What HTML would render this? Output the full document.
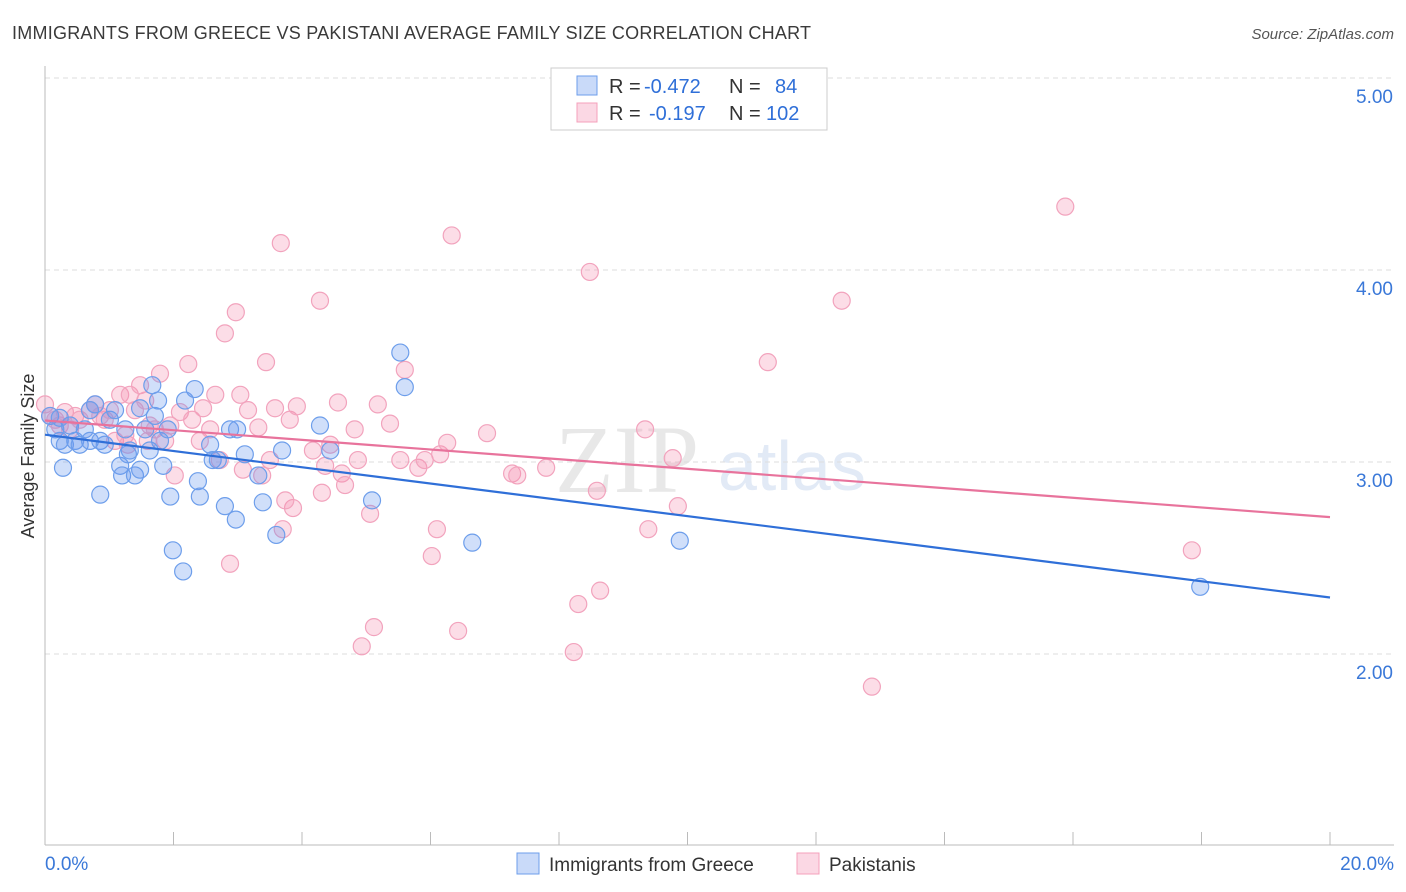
<!DOCTYPE html>
<html><head><meta charset="utf-8"><style>
body{margin:0;background:#fff;font-family:"Liberation Sans",sans-serif;}
#c{position:relative;width:1406px;height:892px;overflow:hidden;}
</style></head><body>
<div id="c">
<svg id="s" width="1406" height="892" xmlns="http://www.w3.org/2000/svg">
<text x="12" y="39" font-size="18" textLength="799" fill="#3a3a3a">IMMIGRANTS FROM GREECE VS PAKISTANI AVERAGE FAMILY SIZE CORRELATION CHART</text>
<text x="1394" y="39" font-size="15" fill="#555" font-style="italic" text-anchor="end">Source: ZipAtlas.com</text>
<text x="34" y="456" font-size="18" fill="#333" text-anchor="middle" transform="rotate(-90 34 456)">Average Family Size</text>
<text x="555" y="492" font-size="96" fill="#e8e8e8" font-family="Liberation Serif,serif">ZIP</text>
<text x="718" y="490" font-size="70" fill="#e2eaf6">atlas</text>
<g id="grid"></g><g id="pts"></g><g id="lines"></g>
<g>
<rect x="551" y="68" width="276" height="62" fill="#fff" stroke="#ccc"/>
<rect x="577" y="76" width="20" height="19" fill="rgba(100,149,237,0.35)" stroke="#6d9eeb"/>
<rect x="577" y="103" width="20" height="19" fill="rgba(244,143,177,0.35)" stroke="#f4a0bb"/>
<text x="609" y="93" font-size="20" fill="#333">R =</text>
<text x="644" y="93" font-size="20" fill="#2f6fd8">-0.472</text>
<text x="729" y="93" font-size="20" fill="#333">N =</text>
<text x="775" y="93" font-size="20" fill="#2f6fd8">84</text>
<text x="609" y="120" font-size="20" fill="#333">R =</text>
<text x="649" y="120" font-size="20" fill="#2f6fd8">-0.197</text>
<text x="729" y="120" font-size="20" fill="#333">N =</text>
<text x="766" y="120" font-size="20" fill="#2f6fd8">102</text>
</g>
<g>
<rect x="517" y="853" width="22" height="21" fill="rgba(100,149,237,0.35)" stroke="#6d9eeb"/>
<text x="549" y="871" font-size="19" fill="#333">Immigrants from Greece</text>
<rect x="797" y="853" width="22" height="21" fill="rgba(244,143,177,0.35)" stroke="#f4a0bb"/>
<text x="829" y="871" font-size="19" fill="#333">Pakistanis</text>
</g>
</svg></div>
<script>
const yTicks=[2,3,4,5];
const yTickLabels=["2.00","3.00","4.00","5.00"];
const xTickLabels=["0.0%","20.0%"];
const greeceX=[.08,.16,.23,.31,.39,.47,.54,.62,.70,.78,.86,.86,.93,1.01,1.09,1.17,1.20,1.25,1.29,1.32,1.40,1.48,1.56,1.63,1.67,1.71,1.76,1.79,1.84,1.91,1.99,1.95,2.15,2.18,2.33,2.38,2.41,2.57,2.61,2.69,2.80,2.88,2.97,2.99,3.11,3.32,3.39,3.60,3.69,4.28,4.44,5.09,5.53,5.60,6.65,9.88,17.98,.28,.70,1.48,.23];
const greeceY=[3.24,3.17,3.11,3.09,3.19,3.11,3.09,3.17,3.11,3.30,2.83,3.11,3.09,3.22,3.27,2.98,2.93,3.17,3.04,3.06,2.93,2.96,3.17,3.06,3.40,3.24,3.32,3.11,2.98,3.17,2.54,2.82,2.43,3.32,3.38,2.90,2.82,3.09,3.01,3.01,2.77,3.17,2.70,3.17,3.04,2.93,2.79,2.62,3.06,3.19,3.06,2.80,3.57,3.39,2.58,2.59,2.35,2.97,3.27,3.28,3.23];
const pakX=[0,.08,.16,.23,.31,.39,.47,.54,.70,.78,.86,.93,1.01,1.09,1.17,1.25,1.32,1.40,1.48,1.56,1.63,1.71,1.79,1.87,1.95,2.02,2.10,2.23,2.29,2.41,2.46,2.57,2.65,2.72,2.80,2.88,2.97,3.04,3.08,3.16,3.32,3.44,3.50,3.58,3.67,3.70,3.81,3.86,3.92,4.17,4.28,4.31,4.36,4.44,4.56,4.62,4.67,4.87,4.93,5.06,5.12,5.18,5.37,5.53,5.60,5.81,5.91,6.02,6.10,6.15,6.26,6.33,6.43,6.88,7.27,7.35,7.80,8.23,8.30,8.48,8.59,8.64,9.34,9.39,9.77,9.85,11.25,12.40,12.87,15.88,17.85,1.29,1.60,3.38,4.82,3.74];
const pakY=[3.30,3.24,3.22,3.19,3.26,3.17,3.24,3.22,3.27,3.30,3.24,3.22,3.27,3.11,3.35,3.14,3.35,3.27,3.40,3.32,3.19,3.17,3.46,3.11,3.19,2.93,3.26,3.51,3.22,3.11,3.28,3.17,3.35,3.01,3.67,2.47,3.78,3.35,2.96,3.27,3.18,3.52,3.01,3.28,4.14,2.65,3.22,2.76,3.29,3.06,3.84,2.84,2.98,3.09,3.31,2.94,2.88,3.01,2.04,2.73,2.14,3.30,3.20,3.01,3.48,2.97,3.01,2.51,2.65,3.04,3.10,4.18,2.12,3.15,2.94,2.93,2.97,2.01,2.26,3.99,2.85,2.33,3.17,2.65,3.02,2.77,3.52,3.84,1.83,4.33,2.54,3.09,3.11,2.93,3.17,2.80];
const NS="http://www.w3.org/2000/svg";
const X=v=>45+v*64.25, Y=v=>78+(5-v)*192;
function mk(t,a,p){const e=document.createElementNS(NS,t);for(const k in a)e.setAttribute(k,a[k]);p.appendChild(e);return e;}
const g=document.getElementById('grid');
yTicks.forEach((t,i)=>{
 const l=mk('line',{x1:45,x2:1394,y1:Y(t),y2:Y(t),stroke:'#ddd','stroke-dasharray':'5,4'},g);
 
 
 const tx=mk('text',{x:1393,y:Y(t)+25,'font-size':19,fill:'#3a78d8','text-anchor':'end'},g);
 tx.textContent=yTickLabels[i];
 
 
});
mk('line',{x1:45,x2:45,y1:66,y2:845,stroke:'#bbb'},g);
mk('line',{x1:45,x2:1394,y1:845,y2:845,stroke:'#bbb'},g);
for(let i=0;i<=10;i++){mk('line',{x1:X(i*2),x2:X(i*2),y1:832,y2:845,stroke:'#bbb'},g);}
const xl1=mk('text',{x:45,y:870,'font-size':19,fill:'#3a78d8'},g);xl1.textContent=xTickLabels[0];


const xl2=mk('text',{x:1394,y:870,'font-size':19,fill:'#3a78d8','text-anchor':'end'},g);xl2.textContent=xTickLabels[1];


const P=document.getElementById('pts');
function series(xs,ys,fill,stroke,name){xs.forEach((x,i)=>{
 const c=mk('circle',{cx:X(x),cy:Y(ys[i]),r:8.5,fill:fill,stroke:stroke,'stroke-width':1.2},P);
 
 
});}
series(pakX,pakY,'rgba(244,143,177,0.3)','#f2a3bd','pakistani-point');
series(greeceX,greeceY,'rgba(100,149,237,0.3)','#6d9eeb','greece-point');
function reg(xs,ys){const n=xs.length;let sx=0,sy=0,sxx=0,sxy=0;for(let i=0;i<n;i++){sx+=xs[i];sy+=ys[i];sxx+=xs[i]*xs[i];sxy+=xs[i]*ys[i];}const b=(n*sxy-sx*sy)/(n*sxx-sx*sx);return [(sy-b*sx)/n,b];}
const L=document.getElementById('lines');
[[greeceX,greeceY,'#2f6fd8','greece-trend-line'],[pakX,pakY,'#e8739c','pakistani-trend-line']].forEach(s=>{
 const [a,b]=reg(s[0],s[1]);
 const l=mk('line',{x1:X(0),y1:Y(a),x2:X(20),y2:Y(a+b*20),stroke:s[2],'stroke-width':2.2},L);
 
 
});
</script>
</body></html>
